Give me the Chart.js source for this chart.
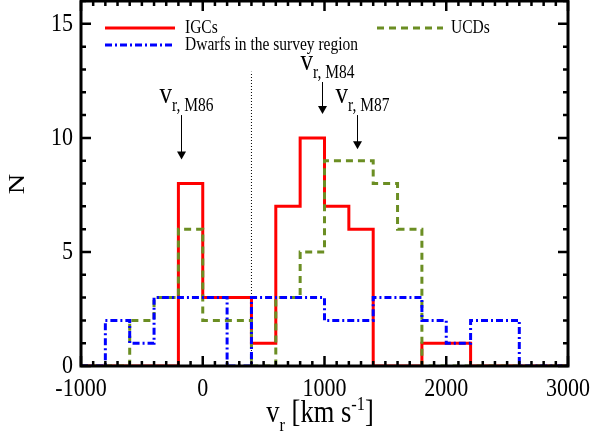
<!DOCTYPE html>
<html>
<head>
<meta charset="utf-8">
<script src="https://cdn.jsdelivr.net/npm/chart.js@4.4.1/dist/chart.umd.min.js"></script>
<style>
  html, body { margin: 0; padding: 0; background: #fff; }
  #histo { display: block; }
</style>
</head>
<body>
<canvas id="histo" width="598" height="436"></canvas>
<script>
// bords des classes (km/s), une classe = 200 km/s
const binEdges = [-1000, -800, -600, -400, -200, 0, 200, 400, 600, 800, 1000,
                  1200, 1400, 1600, 1800, 2000, 2200, 2400, 2600, 2800, 3000];

// nombre d'objets par classe
const igcCounts   = [0, 0, 0, 0, 8, 3, 3, 1, 7, 10, 7, 6, 0, 0, 1, 1, 0, 0, 0, 0];
const ucdCounts   = [0, 0, 2, 3, 6, 2, 2, 0, 3, 5, 9, 9, 8, 6, 0, 0, 0, 0, 0, 0];
const dwarfCounts = [0, 2, 1, 3, 3, 3, 0, 3, 3, 3, 2, 2, 3, 3, 2, 1, 2, 2, 0, 0];

const seriesNames = ['IGCs', 'UCDs', 'Dwarfs in the survey region'];

// ticks
const xTickValues = [-1000, 0, 1000, 2000, 3000];
const xTickLabels = ['-1000', '0', '1000', '2000', '3000'];
const yTickValues = [0, 5, 10, 15];
const yTickLabels = ['0', '5', '10', '15'];

// vitesses des galaxies (fleches) et limite du survey (pointilles)
const galaxyNames = ['M86', 'M84', 'M87'];
const galaxyVelocities = [-180, 980, 1265];
const surveyLimit = 400;

const SERIF = '"Liberation Serif", "DejaVu Serif", serif';
const SY = 1.18; // le texte de la figure est un peu etire verticalement

// histogramme -> points pour une ligne en escalier
function histPoints(counts) {
    const pts = counts.map((c, i) => ({ x: binEdges[i], y: c }));
    pts.push({ x: binEdges[binEdges.length - 1], y: 0 });
    return pts;
}

// texte avec indices / exposants : parts = [[texte, 'n'|'sub'|'sup'], ...]
function richText(ctx, parts, x, y, size, align) {
    ctx.save();
    ctx.translate(x, y);
    ctx.scale(1, SY);
    let total = 0;
    const widths = parts.map(p => {
        const s = p[1] === 'n' ? size : size * 0.62;
        ctx.font = s + 'px ' + SERIF;
        const w = ctx.measureText(p[0]).width;
        total += w;
        return w;
    });
    let cx = align === 'center' ? -total / 2 : (align === 'right' ? -total : 0);
    ctx.textBaseline = 'alphabetic';
    ctx.textAlign = 'left';
    ctx.fillStyle = '#000';
    parts.forEach((p, i) => {
        const s = p[1] === 'n' ? size : size * 0.62;
        ctx.font = s + 'px ' + SERIF;
        let dy = 0;
        if (p[1] === 'sub') dy = size * 0.28;
        if (p[1] === 'sup') dy = -size * 0.38;
        ctx.fillText(p[0], cx, dy);
        cx += widths[i];
    });
    ctx.restore();
}

function plainText(ctx, str, x, y, size, align, baseline) {
    ctx.save();
    ctx.translate(x, y);
    ctx.scale(1, SY);
    ctx.font = size + 'px ' + SERIF;
    ctx.textAlign = align;
    ctx.textBaseline = baseline;
    ctx.fillStyle = '#000';
    ctx.fillText(str, 0, 0);
    ctx.restore();
}

// cadre, ticks interieurs, labels, legende, fleches
const idlFrame = {
    id: 'idlFrame',
    afterDatasetsDraw(chart) {
        const ctx = chart.ctx;
        const a = chart.chartArea;
        const xs = chart.scales.x;
        const ys = chart.scales.y;

        // fleches des galaxies
        const arrowTop = [11.0, 12.45, 11.0];
        const arrowTip = [9.05, 11.05, 9.5];
        ctx.save();
        ctx.strokeStyle = '#000';
        ctx.fillStyle = '#000';
        ctx.lineWidth = 1;
        galaxyVelocities.forEach((v, i) => {
            const px = Math.round(xs.getPixelForValue(v)) + 0.5;
            const y0 = ys.getPixelForValue(arrowTop[i]);
            const y1 = ys.getPixelForValue(arrowTip[i]);
            ctx.beginPath();
            ctx.moveTo(px, y0);
            ctx.lineTo(px, y1 - 6);
            ctx.stroke();
            ctx.beginPath();
            ctx.moveTo(px - 4.5, y1 - 8);
            ctx.lineTo(px + 4.5, y1 - 8);
            ctx.lineTo(px, y1);
            ctx.closePath();
            ctx.fill();
            richText(ctx, [['v', 'n'], ['r, ' + galaxyNames[i], 'sub']], px - 22, y0 - 12, 25, 'left');
        });
        ctx.restore();

        // cadre
        ctx.save();
        ctx.strokeStyle = '#000';
        ctx.lineWidth = 3;
        ctx.strokeRect(a.left, a.top, a.right - a.left, a.bottom - a.top);

        // ticks x (mineurs tous les 100)
        ctx.lineWidth = 2.5;
        ctx.beginPath();
        for (let v = xs.min; v <= xs.max; v += 100) {
            const px = xs.getPixelForValue(v);
            const len = xTickValues.includes(v) ? 10 : 5;
            ctx.moveTo(px, a.bottom);
            ctx.lineTo(px, a.bottom - len);
            ctx.moveTo(px, a.top);
            ctx.lineTo(px, a.top + len);
        }
        // ticks y (mineurs tous les 1)
        for (let v = ys.min; v <= ys.max; v += 1) {
            const py = ys.getPixelForValue(v);
            const len = yTickValues.includes(v) ? 10 : 5;
            ctx.moveTo(a.left, py);
            ctx.lineTo(a.left + len, py);
            ctx.moveTo(a.right, py);
            ctx.lineTo(a.right - len, py);
        }
        ctx.stroke();
        ctx.restore();

        // labels des ticks
        xTickValues.forEach((v, i) => {
            plainText(ctx, xTickLabels[i], xs.getPixelForValue(v), a.bottom + 30, 22, 'center', 'alphabetic');
        });
        yTickValues.forEach((v, i) => {
            plainText(ctx, yTickLabels[i], a.left - 8, ys.getPixelForValue(v) + 7, 22, 'right', 'alphabetic');
        });

        // titres des axes
        richText(ctx, [['v', 'n'], ['r', 'sub'], [' [km s', 'n'], ['-1', 'sup'], [']', 'n']], 320, 422, 26.5, 'center');
        ctx.save();
        ctx.translate(18, 184);
        ctx.rotate(-Math.PI / 2);
        ctx.scale(SY, 1);
        ctx.font = '24px ' + SERIF;
        ctx.textAlign = 'center';
        ctx.textBaseline = 'middle';
        ctx.fillStyle = '#000';
        ctx.fillText('N', 0, 0);
        ctx.restore();

        // legende
        const legend = [
            { ds: 0, x0: 105, x1: 175, y: 28, tx: 185 },
            { ds: 2, x0: 105, x1: 175, y: 45, tx: 185 },
            { ds: 1, x0: 377, x1: 443, y: 28, tx: 451 }
        ];
        legend.forEach(l => {
            const d = chart.data.datasets[l.ds];
            ctx.save();
            ctx.strokeStyle = d.borderColor;
            ctx.lineWidth = d.borderWidth;
            ctx.setLineDash(d.borderDash || []);
            ctx.beginPath();
            ctx.moveTo(l.x0, l.y);
            ctx.lineTo(l.x1, l.y);
            ctx.stroke();
            ctx.restore();
            plainText(ctx, d.label, l.tx, l.y + 5, 15.5, 'left', 'alphabetic');
        });
    }
};

const ctx = document.getElementById('histo').getContext('2d');
const histoChart = new Chart(ctx, {
    type: 'line',
    data: {
        datasets: [{
            label: seriesNames[0],
            data: histPoints(igcCounts),
            stepped: 'before',
            borderColor: '#ff0000',
            borderWidth: 3,
            order: 3
        }, {
            label: seriesNames[1],
            data: histPoints(ucdCounts),
            stepped: 'before',
            borderColor: '#6b8e23',
            borderWidth: 3,
            borderDash: [7, 5],
            order: 2
        }, {
            label: seriesNames[2],
            data: histPoints(dwarfCounts),
            stepped: 'before',
            borderColor: '#0000ff',
            borderWidth: 3,
            borderDash: [7, 3, 2, 3],
            order: 1
        }, {
            label: 'survey',
            data: [{ x: surveyLimit, y: 0 }, { x: surveyLimit, y: 12.9 }],
            borderColor: '#000',
            borderWidth: 1,
            borderDash: [1, 2],
            order: 4
        }]
    },
    options: {
        responsive: false,
        animation: false,
        layout: {
            padding: { left: 0, right: 30, top: 1, bottom: 0 }
        },
        elements: {
            point: { radius: 0 },
            line: { tension: 0, borderCapStyle: 'butt' }
        },
        plugins: {
            legend: { display: false },
            tooltip: { enabled: false }
        },
        scales: {
            x: {
                type: 'linear',
                min: -1000,
                max: 3000,
                grid: { display: false },
                border: { display: false },
                ticks: { display: false },
                afterFit: s => { s.height = 70; }
            },
            y: {
                type: 'linear',
                min: 0,
                max: 16,
                grid: { display: false },
                border: { display: false },
                ticks: { display: false },
                afterFit: s => { s.width = 81; }
            }
        }
    },
    plugins: [idlFrame]
});
</script>
</body>
</html>
